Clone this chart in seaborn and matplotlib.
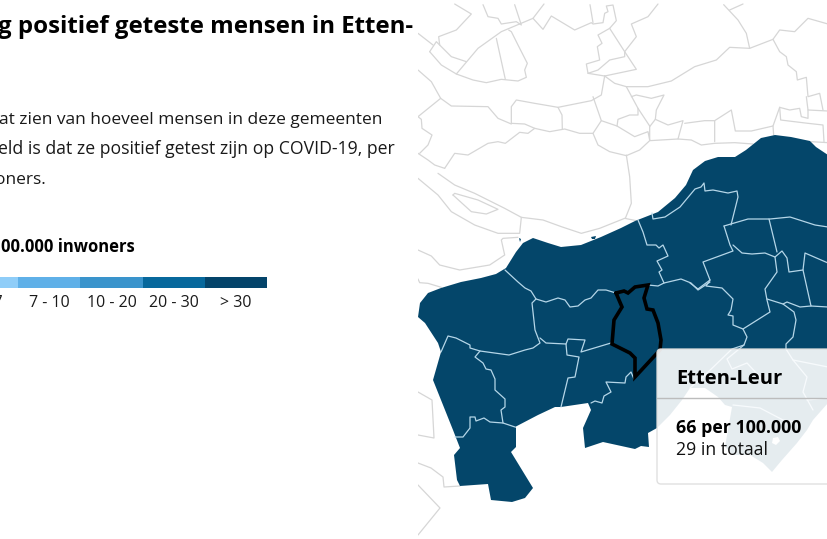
import matplotlib
matplotlib.use("Agg")
import matplotlib.pyplot as plt
from matplotlib.patches import FancyBboxPatch
import pandas as pd
import seaborn as sns

# Legend classes (per 100.000 inwoners)
class_labels = ['4 - 7', '7 - 10', '10 - 20', '20 - 30', '> 30']
class_values = [1, 1, 1, 1, 1]
class_colors = ['#8fcdf8', '#5fb0e8', '#3a94cc', '#07689c', '#04446a']

# Texts
title_text = 'g positief geteste mensen in Etten-'
body_lines = ['at zien van hoeveel mensen in deze gemeenten',
              'eld is dat ze positief getest zijn op COVID-19, per',
              'oners.']
legend_title = '00.000 inwoners'
tip_name = 'Etten-Leur'
tip_rate = '66 per 100.000'
tip_total = '29 in totaal'

# Outline of the coloured region, screen pixels
region_outline = [
    (828, 155), (816, 147), (810, 141), (791, 137), (775, 135), (761, 138), (746, 150), (735, 157),
    (718, 157), (705, 161), (693, 170), (686, 185), (675, 198), (658, 212), (635, 221), (621, 228),
    (601, 237), (581, 245), (561, 247), (548, 243), (533, 238), (523, 243), (516, 252), (506, 268),
    (496, 274), (481, 278), (461, 282), (441, 288), (428, 293), (420, 303), (418, 317), (425, 323),
    (438, 343), (441, 352), (433, 380), (453, 430), (460, 448), (454, 455), (457, 480), (460, 486),
    (488, 484), (491, 500), (512, 502), (525, 498), (533, 488), (511, 452), (516, 447), (516, 428),
    (515, 427), (538, 415), (555, 407), (561, 407), (588, 403), (591, 410), (583, 428), (585, 448),
    (603, 442), (635, 449), (641, 446), (649, 447), (648, 433), (657, 428), (670, 415), (682, 400),
    (690, 388), (705, 388), (718, 397), (725, 405), (732, 407), (725, 447), (733, 455), (750, 455),
    (763, 463), (772, 472), (782, 460), (797, 443), (807, 430), (813, 420), (828, 403),
]
region_hole = [(773, 438), (778, 437), (780, 441), (776, 445), (772, 443)]
islets = [[(591, 237), (596, 236), (595, 239), (592, 239)], [(519, 238), (521, 239), (520, 242)]]

etten_leur = [
    (616, 293), (624, 291), (628, 293), (635, 287), (648, 285), (644, 298), (647, 309), (653, 310),
    (658, 323), (661, 340), (660, 350), (635, 377), (635, 358), (630, 353), (612, 344), (614, 320),
    (622, 307), (616, 293),
]

# Municipal borders inside the coloured region
inner_borders = [
    [(505, 270), (518, 282), (525, 288), (531, 291), (536, 299), (546, 302), (558, 298), (565, 300),
     (570, 307), (578, 306), (585, 300), (591, 298), (598, 290), (606, 290), (616, 293)],
    [(648, 285), (658, 286), (664, 283), (681, 279), (691, 283), (698, 290), (710, 282)],
    [(638, 220), (643, 232), (647, 245), (656, 245), (659, 248), (663, 245), (668, 256), (657, 261),
     (662, 270), (659, 272), (664, 283)],
    [(652, 213), (653, 219), (665, 217), (680, 207), (695, 189), (701, 187), (704, 183), (705, 191),
     (713, 190), (728, 193), (737, 191), (738, 197), (733, 217), (731, 225)],
    [(724, 226), (748, 219), (770, 219), (790, 217), (815, 225), (828, 227)],
    [(724, 226), (730, 245), (733, 251), (703, 262), (710, 280), (698, 289), (690, 283)],
    [(710, 280), (706, 286), (722, 288), (733, 299), (731, 310), (728, 315), (733, 316), (733, 325),
     (743, 329), (770, 312), (767, 300), (765, 289), (777, 272), (775, 257)],
    [(733, 245), (742, 253), (752, 254), (765, 253), (775, 257), (782, 251), (787, 258), (789, 272),
     (803, 270), (805, 253), (828, 263)],
    [(769, 219), (777, 252)],
    [(803, 270), (811, 306), (828, 307)],
    [(811, 306), (800, 307), (787, 302), (783, 304), (767, 299)],
    [(783, 304), (794, 312), (796, 320), (793, 337), (786, 344), (786, 349), (793, 360), (807, 377),
     (803, 392), (813, 410)],
    [(793, 360), (828, 367)],
    [(807, 400), (828, 398)],
    [(743, 329), (747, 337), (744, 345), (727, 359), (732, 369), (747, 363), (760, 377), (763, 384)],
    [(744, 345), (732, 349), (705, 375), (690, 388)],
    [(733, 405), (760, 408), (783, 420), (797, 422)],
    [(441, 352), (448, 336), (456, 338), (470, 345), (470, 348), (480, 351), (509, 355), (525, 350),
     (533, 348), (540, 343), (535, 330), (532, 303), (536, 299)],
    [(480, 351), (475, 357), (483, 363), (486, 369), (491, 370), (495, 379), (495, 390), (505, 399),
     (505, 407), (501, 410), (503, 423)],
    [(455, 437), (463, 437), (470, 428), (470, 417), (475, 417), (476, 421), (484, 418), (490, 422),
     (503, 423), (515, 427)],
    [(540, 338), (546, 343), (566, 344), (568, 339), (585, 340), (581, 352), (611, 343)],
    [(566, 344), (567, 355), (579, 357), (575, 377), (568, 378), (561, 407)],
    [(591, 403), (595, 401), (602, 403), (604, 396), (611, 392), (606, 382), (625, 383), (626, 377),
     (631, 372), (634, 379)],
]

# Grey borders outside the region. These were read in 3x crops with x origin 418,
# so they are scaled back below; y origin is 0 for the upper set, 130 for the middle one
grey_upper = [
    [(0, 100), (45, 135)],
    [(35, 155), (55, 125), (70, 140), (100, 170), (145, 185)],
    [(35, 155), (70, 195), (115, 222), (165, 240), (205, 248), (250, 238), (300, 243), (325, 232),
     (320, 210), (328, 190), (300, 135), (280, 95), (272, 90)],
    [(115, 222), (180, 145), (250, 95), (345, 55), (378, 12)],
    [(65, 135), (62, 110), (115, 90), (160, 42), (110, 12)],
    [(235, 115), (262, 238)],
    [(195, 14), (210, 50), (240, 55), (250, 72), (295, 65), (310, 75), (290, 14)],
    [(345, 55), (375, 88), (400, 48), (470, 90), (520, 68), (525, 72), (555, 68), (560, 40), (570, 35),
     (565, 18), (585, 15), (595, 62), (575, 85), (620, 155), (655, 208), (560, 228)],
    [(516, 14), (525, 68)],
    [(575, 85), (540, 105), (552, 130), (538, 140), (545, 180), (505, 192), (510, 220), (540, 210),
     (575, 180), (620, 170), (620, 155)],
    [(510, 220), (560, 228)],
    [(620, 155), (655, 110), (640, 72), (690, 50), (720, 12)],
    [(560, 228), (590, 250), (625, 260), (690, 260), (760, 243), (830, 200), (895, 180), (935, 142),
     (995, 145), (1065, 118), (1085, 90), (1130, 95), (1170, 55), (1230, 72)],
    [(917, 14), (960, 60), (985, 100), (995, 145)],
    [(935, 30), (975, 12)],
    [(1065, 118), (1085, 155), (1105, 170), (1110, 195), (1135, 215), (1138, 240), (1165, 232),
     (1170, 290), (1205, 280), (1215, 330)],
    [(1165, 290), (1170, 330), (1230, 333)],
    [(625, 260), (660, 325), (695, 378), (695, 420)],
    [(640, 290), (655, 285), (700, 295), (738, 285), (715, 330), (712, 358), (695, 380)],
    [(660, 325), (660, 345), (635, 345), (600, 358), (597, 378), (650, 410), (690, 395), (695, 420)],
    [(560, 228), (550, 285), (520, 302), (420, 322), (350, 310), (295, 300), (280, 320), (280, 370),
     (320, 372), (350, 385), (395, 395), (440, 387), (485, 400), (525, 400), (550, 362), (597, 378)],
    [(420, 322), (432, 345), (433, 387)],
    [(525, 290), (550, 362)],
    [(525, 400), (540, 435), (575, 455), (625, 467), (665, 450), (695, 422), (780, 417), (820, 420),
     (850, 435), (890, 430), (950, 428), (1005, 432)],
    [(712, 358), (750, 375), (795, 362), (780, 417)],
    [(800, 370), (860, 362), (890, 362), (890, 425)],
    [(890, 362), (940, 330), (952, 393), (1000, 393), (1065, 378), (1085, 322), (1115, 330), (1145, 325),
     (1150, 350), (1170, 355), (1170, 330)],
    [(1085, 322), (1088, 360), (1170, 370), (1215, 375), (1218, 425)],
    [(1065, 378), (1067, 405)],
    [(1180, 425), (1230, 428)],
    [(0, 210), (40, 245), (68, 295), (0, 350)],
    [(68, 295), (100, 318), (210, 320), (240, 355), (280, 372)],
    [(0, 460), (30, 480), (50, 495), (80, 505)],
    [(0, 350), (10, 358), (12, 385), (42, 405), (30, 435), (5, 460)],
    [(80, 505), (110, 460), (150, 465), (210, 430), (240, 425), (262, 430), (305, 397), (330, 400),
     (350, 385)],
]
grey_middle = [
    [(625, 75), (635, 140), (640, 220), (622, 265)],
    [(60, 130), (110, 165), (170, 190), (260, 235), (310, 262), (375, 270), (430, 290), (490, 310),
     (545, 295), (620, 265), (655, 272)],
    [(0, 145), (60, 195), (100, 245), (170, 285), (240, 310), (305, 310), (310, 262)],
    [(105, 195), (110, 190), (180, 210), (240, 238), (205, 252), (160, 245), (105, 195)],
    [(300, 322), (255, 325), (250, 330), (260, 375), (215, 405), (125, 420), (65, 405), (40, 378), (0, 360)],
    [(0, 447), (5, 458), (30, 460), (70, 472)],
]
grey_lower = [
    [(418, 392), (432, 400), (434, 438), (418, 435)],
    [(418, 463), (431, 468), (443, 477), (444, 487), (460, 486)],
    [(418, 485), (440, 508), (418, 535)],
]


def from_crop(lines, y0):
    return [[(418 + x / 3, y0 + y / 3) for x, y in line] for line in lines]


def borders_frame(lines):
    rows = []
    for i, line in enumerate(lines):
        for x, y in line:
            rows.append({'x': x, 'y': y, 'border': i})
    return pd.DataFrame(rows)


sns.set_theme(style="white")
plt.rcParams['font.family'] = ['Open Sans', 'DejaVu Sans']

W, H = 828, 539
fig = plt.figure(figsize=(W / 100, H / 100), dpi=100, facecolor='white')

# Map panel, data units are screen pixels
ax = fig.add_axes([418 / W, 0, 410 / W, 1])
ax.set_xlim(418, 828)
ax.set_ylim(539, 0)
ax.axis('off')

grey_df = borders_frame(from_crop(grey_upper, 0) + from_crop(grey_middle, 130) + grey_lower)
sns.lineplot(data=grey_df, x='x', y='y', units='border', estimator=None, sort=False,
             color='#d6d6d6', linewidth=0.9, ax=ax, zorder=1)

ax.fill(*zip(*region_outline), color='#04466a', linewidth=0, zorder=2)
ax.fill(*zip(*region_hole), color='white', linewidth=0, zorder=2.1)
for islet in islets:
    ax.fill(*zip(*islet), color='#04466a', linewidth=0, zorder=2)

inner_df = borders_frame(inner_borders)
sns.lineplot(data=inner_df, x='x', y='y', units='border', estimator=None, sort=False,
             color='#b5d6e8', linewidth=0.9, ax=ax, zorder=3)

ax.plot(*zip(*etten_leur), color='black', linewidth=2.6, solid_joinstyle='miter', zorder=4)

# Tooltip, see-through so the map shows under it
ax.add_patch(FancyBboxPatch((657, 349), 200, 135, boxstyle='round,pad=0,rounding_size=4',
                            facecolor='white', edgecolor='#dddddd', linewidth=1, alpha=0.9, zorder=5))
ax.plot([657, 828], [398, 398], color='#bcbcbc', linewidth=1, zorder=6)
ax.text(676, 384, tip_name, fontsize=14.5, fontweight='bold', color='black', zorder=7)
ax.text(676, 433, tip_rate, fontsize=12.8, fontweight='bold', color='black', zorder=7)
ax.text(676, 455, tip_total, fontsize=12.7, color='#111111', zorder=7)

# Left column texts, on a full figure layer in pixels
tx = fig.add_axes([0, 0, 1, 1], zorder=-1)
tx.set_xlim(0, W)
tx.set_ylim(H, 0)
tx.axis('off')
tx.text(413, 33, title_text, ha='right', fontsize=17.3, fontweight='bold', color='black')
tx.text(382, 124, body_lines[0], ha='right', fontsize=12.5, color='#1a1a1a')
tx.text(395, 154.5, body_lines[1], ha='right', fontsize=12.7, color='#1a1a1a')
tx.text(46, 184, body_lines[2], ha='right', fontsize=12.5, color='#1a1a1a')
tx.text(135, 252, legend_title, ha='right', fontsize=12, fontweight='bold', color='black')

# Colour legend, starts off the left edge like the reference
lg = fig.add_axes([-44 / W, 1 - 288 / H, 311 / W, 11.5 / H])
legend_df = pd.DataFrame({'klasse': class_labels, 'n': class_values})
sns.barplot(data=legend_df, x='klasse', y='n', hue='klasse', palette=class_colors, width=1,
            saturation=1, legend=False, linewidth=0, ax=lg)
lg.set_xlim(-0.5, 4.5)
lg.set_ylim(0, 1)
lg.set_xlabel('')
lg.set_ylabel('')
lg.set_yticks([])
lg.tick_params(axis='x', length=0, pad=5, labelsize=11.5, labelcolor='#1a1a1a')
sns.despine(ax=lg, left=True, bottom=True)

fig.savefig('out.png', dpi=100)
